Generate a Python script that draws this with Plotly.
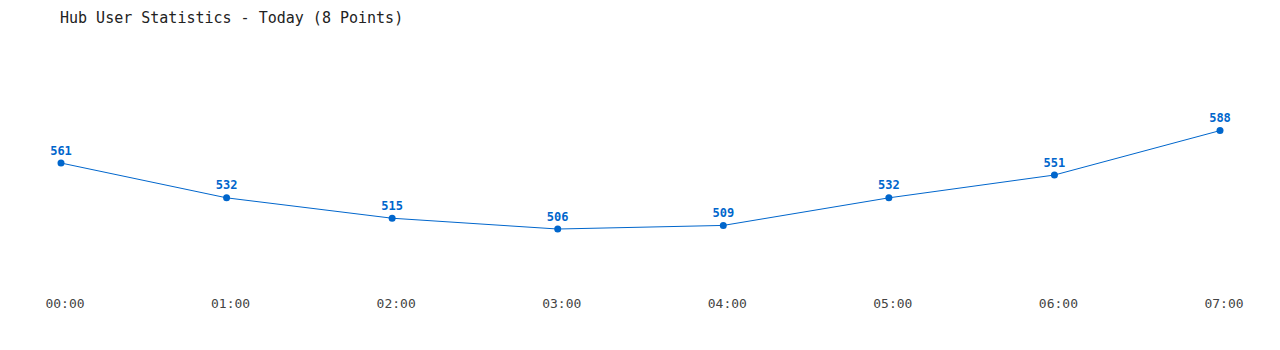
import plotly.graph_objects as go

hours = ["00:00", "01:00", "02:00", "03:00", "04:00", "05:00", "06:00", "07:00"]
users = [561, 532, 515, 506, 509, 532, 551, 588]
title_text = "Hub User Statistics - Today (8 Points)"

blue = "#0066CC"
mono = "DejaVu Sans Mono, Liberation Mono, monospace"

fig = go.Figure(go.Scatter(
    x=list(range(len(hours))), y=users,
    mode="lines+markers+text",
    text=[str(v) for v in users],
    textposition="top center",
    textfont=dict(family=mono, size=12, color=blue, weight="bold"),
    line=dict(color=blue, width=1),
    marker=dict(color=blue, size=7),
    cliponaxis=False,
    hoverinfo="skip",
))

fig.update_layout(
    width=1280, height=350,
    margin=dict(l=61, r=60, t=40, b=60),
    paper_bgcolor="white", plot_bgcolor="white",
    showlegend=False,
    title=dict(text=title_text, x=60/1280, xref="container", xanchor="left",
               y=1-18/350, yref="container", yanchor="middle",
               font=dict(family=mono, size=15, color="#222222")),
    xaxis=dict(range=[0, 7], tickvals=list(range(len(hours))), ticktext=hours,
               showgrid=False, zeroline=False, showline=False, ticks="",
               ticklabelshift=4, ticklabelstandoff=4,
               tickfont=dict(family=mono, size=13, color="#444444")),
    yaxis=dict(range=[455.2, 663.5], visible=False, showgrid=False, zeroline=False),
)

fig.write_html("out.html")
